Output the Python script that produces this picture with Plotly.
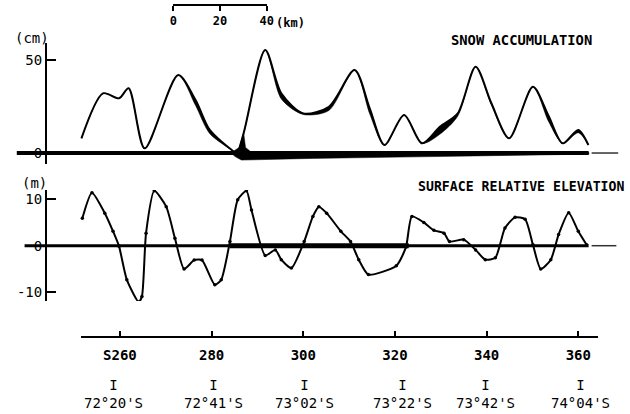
import plotly.graph_objects as go

# ---------------- data ----------------
snow_station = [251.6, 256.3, 259.8, 261.9, 265.4, 272.7, 276.5, 279.6, 284.4, 285.5,
                287.0, 291.7, 295.2, 300.0, 305.6, 311.2, 314.5, 317.7, 322.0, 325.9,
                329.8, 333.7, 337.6, 341.0, 344.9, 350.1, 353.5, 356.6, 360.0, 362.2]
snow_cm = [7.9, 32.1, 29.4, 34.8, 2.5, 41.9, 28.5, 12.4, 1.6, 0.0,
           10.8, 55.4, 32.1, 21.3, 24.9, 44.6, 24.0, 4.3, 20.4, 5.2,
           14.1, 21.3, 46.4, 27.0, 7.9, 35.6, 20.0, 5.2, 12.4, 4.3]
snow_ribbon = [0, 0, 0, 0, 0, 0, 3, 2.0, 0, 0,
               0, 0, 3, 0.6, 2.0, 0, 3, 0, 0, 0,
               4, 1.5, 0, 1, 0, 0, 3, 0, 1.5, 0]

wedge_station = [284.2, 286.0, 287.0, 287.4, 288.5, 362.3, 362.3, 347.0, 321.0, 302.0, 290.0, 286.5, 285.2, 284.2]
wedge_cm = [0.0, 3.0, 10.8, 3.0, 0.8, 0.3, -0.6, -1.3, -2.2, -2.9, -3.6, -3.8, -2.0, 0.0]

elev_station = [251.8, 253.9, 256.7, 258.5, 259.8, 261.5, 264.1, 264.8, 265.7, 267.5,
                270.1, 272.0, 274.0, 276.2, 277.9, 280.7, 282.1, 284.0, 285.7, 287.6,
                288.7, 291.7, 293.9, 295.2, 297.4, 300.2, 302.1, 303.4, 305.1, 308.2,
                310.3, 312.1, 314.2, 320.3, 322.4, 323.7, 326.3, 328.5, 330.7, 331.9,
                335.0, 337.6, 339.7, 341.9, 344.0, 346.2, 348.4, 350.1, 351.8, 354.0,
                355.7, 357.9, 360.0, 361.8]
elev_m = [5.9, 11.4, 7.0, 3.1, -0.1, -7.3, -12.1, -10.9, 2.7, 11.8,
          8.4, 1.6, -5.0, -3.1, -3.1, -8.4, -7.3, 0.9, 9.9, 11.8,
          7.7, -2.1, -0.9, -3.0, -4.8, 0.9, 6.3, 8.4, 7.0, 3.1,
          0.9, -3.0, -6.2, -4.3, -0.3, 6.3, 5.0, 3.3, 2.7, 0.9,
          1.3, -0.9, -3.0, -2.6, 3.8, 6.1, 5.7, 0.2, -5.0, -3.0,
          2.4, 7.1, 3.1, 0.2]

station_ticks = [260, 280, 300, 320, 340, 360]
station_labels = ["S260", "280", "300", "320", "340", "360"]

lat_station = [258.7, 280.4, 300.3, 321.7, 339.7, 360.5]
lat_labels = ["72°20'S", "72°41'S", "73°02'S", "73°22'S", "73°42'S", "74°04'S"]

km_ticks = [0, 20, 40]
km_labels = ["0", "20", "40"]

snow_ticks = [0, 50]
elev_ticks = [10, 0, -10]
elev_ticklabels = ["10", "0", "-10"]

# baseline extents (station units)
top_base = [237.5, 362.25]
top_base_ext = [362.9, 368.7]
bot_base = [239.2, 362.25]
bot_base_thick = [284.0, 323.0]
bot_base_ext = [362.9, 368.3]

# ---------------- figure ----------------
W, H = 630, 414
def px(x):
    return x / W
def py(y):
    return 1 - y / H

MONO = "DejaVu Sans Mono"
fig = go.Figure()

# snow ribbon lower edge
fig.add_trace(go.Scatter(x=snow_station, y=[c - r for c, r in zip(snow_cm, snow_ribbon)],
                         mode="lines", line=dict(color="black", width=0.5, shape="spline", smoothing=0.8),
                         hoverinfo="skip", showlegend=False, xaxis="x", yaxis="y"))
fig.add_trace(go.Scatter(x=snow_station, y=snow_cm, mode="lines", fill="tonexty",
                         fillcolor="black",
                         line=dict(color="black", width=2, shape="spline", smoothing=0.8),
                         hoverinfo="skip", showlegend=False, xaxis="x", yaxis="y"))
fig.add_trace(go.Scatter(x=wedge_station, y=wedge_cm, mode="lines", fill="toself",
                         fillcolor="black", line=dict(color="black", width=0.5),
                         hoverinfo="skip", showlegend=False, xaxis="x", yaxis="y"))

fig.add_trace(go.Scatter(x=elev_station, y=elev_m, mode="lines+markers",
                         line=dict(color="black", width=2, shape="spline", smoothing=0.6),
                         marker=dict(color="black", size=3.5),
                         hoverinfo="skip", showlegend=False, xaxis="x", yaxis="y2"))

# dummy traces to carry the station axis and km scale
fig.add_trace(go.Scatter(x=station_ticks, y=[0] * len(station_ticks), mode="markers",
                         marker=dict(opacity=0), hoverinfo="skip", showlegend=False,
                         xaxis="x2", yaxis="y3"))
fig.add_trace(go.Scatter(x=km_ticks, y=[0] * len(km_ticks), mode="markers",
                         marker=dict(opacity=0), hoverinfo="skip", showlegend=False,
                         xaxis="x3", yaxis="y3"))

shapes = [
    dict(type="line", xref="x", yref="y", x0=top_base[0], x1=top_base[1], y0=0, y1=0,
         line=dict(color="black", width=4), layer="above"),
    dict(type="line", xref="x", yref="y", x0=top_base_ext[0], x1=top_base_ext[1], y0=0, y1=0,
         line=dict(color="#333", width=1.5)),
    dict(type="line", xref="x", yref="y2", x0=bot_base[0], x1=bot_base[1], y0=0, y1=0,
         line=dict(color="black", width=3), layer="above"),
    dict(type="line", xref="x", yref="y2", x0=bot_base_thick[0], x1=bot_base_thick[1], y0=0, y1=0,
         line=dict(color="black", width=5), layer="above"),
    dict(type="line", xref="x", yref="y2", x0=bot_base_ext[0], x1=bot_base_ext[1], y0=0, y1=0,
         line=dict(color="#333", width=1.5)),
]

annotations = [
    dict(text="(cm)", x=px(28), y=py(38), xref="paper", yref="paper", showarrow=False,
         font=dict(family=MONO, size=14, color="black"), xanchor="center", yanchor="middle"),
    dict(text="(m)", x=px(31), y=py(183), xref="paper", yref="paper", showarrow=False,
         font=dict(family=MONO, size=14, color="black"), xanchor="center", yanchor="middle"),
    dict(text="<b>SNOW ACCUMULATION</b>", x=px(600), y=py(40), xref="paper", yref="paper",
         showarrow=False, font=dict(family=MONO, size=13.8, color="black"),
         xanchor="right", yanchor="middle"),
    dict(text="<b>SURFACE RELATIVE ELEVATION</b>", x=px(633), y=py(186), xref="paper", yref="paper",
         showarrow=False, font=dict(family=MONO, size=13.2, color="black"),
         xanchor="right", yanchor="middle"),
    dict(text="<b>(km)</b>", x=px(275), y=py(23), xref="paper", yref="paper", showarrow=False,
         font=dict(family=MONO, size=12, color="black"), xanchor="left", yanchor="middle"),
]
for s, lab in zip(lat_station, lat_labels):
    annotations.append(dict(text="I<br>" + lab, x=s, y=py(394), xref="x", yref="paper",
                            showarrow=False, font=dict(family=MONO, size=14, color="black"),
                            xanchor="center", yanchor="middle", align="center"))

fig.update_layout(
    width=W, height=H, margin=dict(l=0, r=0, t=0, b=0),
    paper_bgcolor="white", plot_bgcolor="rgba(0,0,0,0)", showlegend=False,
    xaxis=dict(domain=[0, 1], range=[234.71, 369.75], visible=False, anchor="y"),
    yaxis=dict(domain=[py(164), py(43)], range=[-5.9, 59.14], anchor="free", position=px(42.5),
               showline=True, linewidth=1.5, linecolor="black", ticks="inside", ticklen=9,
               tickwidth=1.5, tickcolor="black", tickvals=snow_ticks, showgrid=False, zeroline=False,
               tickfont=dict(family=MONO, size=14, color="black")),
    yaxis2=dict(domain=[py(301), py(190)], range=[-11.89, 11.98], anchor="free", position=px(42.5),
                showline=True, linewidth=1.5, linecolor="black", ticks="inside", ticklen=9,
                tickwidth=1.5, tickcolor="black", tickvals=elev_ticks, ticktext=elev_ticklabels,
                showgrid=False, zeroline=False,
                tickfont=dict(family=MONO, size=14, color="black")),
    yaxis3=dict(domain=[0, 0.01], range=[-1, 1], visible=False, anchor="x2"),
    xaxis2=dict(domain=[px(78), px(605)], range=[251.43, 364.39], anchor="free", position=py(337),
                showline=True, linewidth=2, linecolor="black", ticks="inside", ticklen=5,
                tickwidth=2, tickcolor="black", tickvals=station_ticks, ticktext=station_labels,
                showgrid=False, zeroline=False, ticklabelstandoff=5,
                tickfont=dict(family=MONO, size=14, color="black", weight="bold")),
    xaxis3=dict(domain=[px(172.3), px(267.3)], range=[0, 40], anchor="free", position=py(5),
                showline=True, linewidth=1.5, linecolor="black", ticks="outside", ticklen=5,
                tickwidth=1.5, tickcolor="black", tickvals=km_ticks, ticktext=km_labels,
                showgrid=False, zeroline=False,
                tickfont=dict(family=MONO, size=12, color="black", weight="bold")),
    shapes=shapes, annotations=annotations,
)

fig.write_html("out.html")
